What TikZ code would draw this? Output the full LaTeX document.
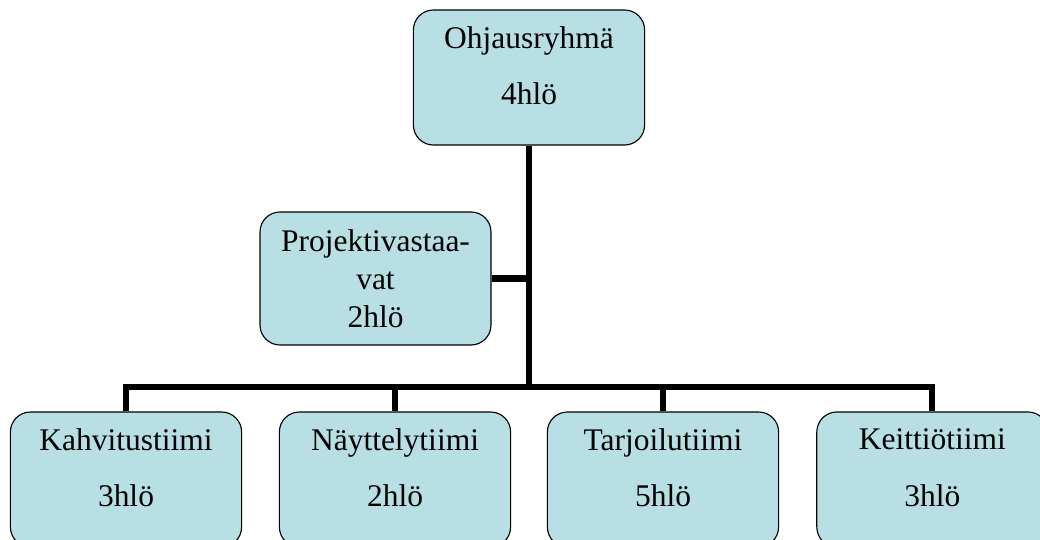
\documentclass[tikz,border=0pt]{standalone}
\usepackage{fontspec}
\setmainfont{Liberation Serif}
\usetikzlibrary{positioning,calc}
\definecolor{boxfill}{RGB}{184,224,228}

\begin{document}
\begin{tikzpicture}[
    team/.style={draw=black, line width=0.8pt, fill=boxfill, rounded corners=0.5cm,
        minimum width=5.78cm, minimum height=3.375cm, align=center, inner sep=0pt,
        font=\fontsize{22.4}{26.9}\selectfont},
    shifted/.style={text depth=17pt},
    link/.style={line width=4.3pt, line join=miter}]
    \useasboundingbox (0,0) rectangle (26,-13.475);
    \clip (0,0) rectangle (26,-13.475);
    \node[team, shifted] (Oh) at (13.225,-1.9375) {Ohjausryhmä\\[13pt]4hlö};
    \node[team, minimum width=5.775cm, minimum height=3.325cm] (Pv) at (9.3875,-6.9625) {Projektivastaa-\\vat\\2hlö};
    \node[team, shifted] (Ka) at (3.15,-11.9875) {Kahvitustiimi\\[13pt]3hlö};
    \node[team, shifted] (Na) at (9.875,-11.9875) {Näyttelytiimi\\[13pt]2hlö};
    \node[team, shifted] (Ta) at (16.575,-11.9875) {Tarjoilutiimi\\[13pt]5hlö};
    \node[team, shifted] (Ke) at (23.31,-11.9875) {Keittiötiimi\\[13pt]3hlö};
    \coordinate (J) at (13.225,-9.675);
    \draw[link] (Oh.south) -- (J);
    \draw[link] (Pv.east) -- (Pv.east -| Oh.south);
    \draw[link] (Ka.north) -- (Ka.north |- J) -- (Ke.north |- J) -- (Ke.north);
    \draw[link] (Na.north) -- (Na.north |- J);
    \draw[link] (Ta.north) -- (Ta.north |- J);
\end{tikzpicture}
\end{document}
